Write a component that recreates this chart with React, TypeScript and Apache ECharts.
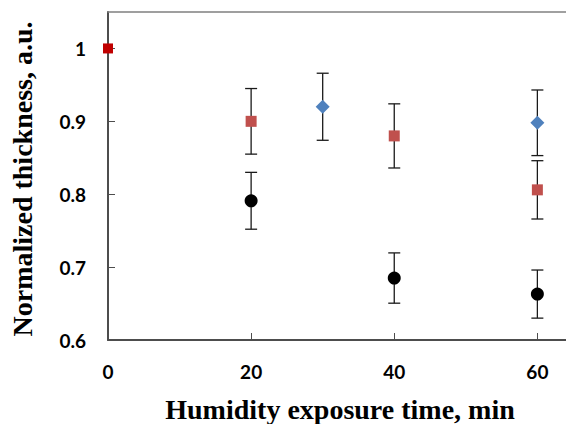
import React, { useEffect, useRef } from "react";
import * as echarts from "echarts";

// Data
const startPoint: [number, number][] = [[0, 1.0]];

const redX = [20, 40, 60];
const redY = [0.9, 0.88, 0.806];
const redErr = [0.045, 0.044, 0.04];

const blueX = [30, 60];
const blueY = [0.92, 0.898];
const blueErr = [0.046, 0.045];

const blackX = [20, 40, 60];
const blackY = [0.791, 0.685, 0.663];
const blackErr = [0.039, 0.0345, 0.033];

const xTicks = [0, 20, 40, 60];
const yTicks = [0.6, 0.7, 0.8, 0.9, 1];

const xTitle = "Humidity exposure time, min";
const yTitle = "Normalized thickness, a.u.";

const toPoints = (xs: number[], ys: number[]) => xs.map((x, i) => [x, ys[i]]);
const toErr = (xs: number[], ys: number[], es: number[]) =>
  xs.map((x, i) => [x, ys[i] - es[i], ys[i] + es[i]]);

const errSeries = (data: number[][]) => ({
  type: "custom",
  data,
  z: 1,
  silent: true,
  encode: { x: 0, y: [1, 2] },
  renderItem: (params: any, api: any) => {
    const x = api.value(0);
    const lo = api.coord([x, api.value(1)]);
    const hi = api.coord([x, api.value(2)]);
    const w = 6;
    const style = { stroke: "#1a1a1a", lineWidth: 1.3 };
    return {
      type: "group",
      children: [
        { type: "line", shape: { x1: hi[0], y1: hi[1], x2: lo[0], y2: lo[1] }, style },
        { type: "line", shape: { x1: hi[0] - w, y1: hi[1], x2: hi[0] + w, y2: hi[1] }, style },
        { type: "line", shape: { x1: lo[0] - w, y1: lo[1], x2: lo[0] + w, y2: lo[1] }, style },
      ],
    };
  },
});

export default function App() {
  const ref = useRef<HTMLDivElement>(null);
  useEffect(() => {
    if (!ref.current) return;
    const chart = echarts.init(ref.current, null, { renderer: "svg" });
    const labelFont = { fontFamily: "Lato", fontWeight: "bold" as const, fontSize: 19, color: "#000" };
    chart.setOption({
      animation: false,
      backgroundColor: "#fff",
      grid: {
        left: 108,
        right: 0,
        top: 12,
        bottom: 84,
        show: false,
      },
      xAxis: [
        {
          type: "value",
          min: 0,
          max: 64,
          interval: 20,
          splitLine: { show: false },
          axisLine: { show: true, lineStyle: { color: "#4d4d4d", width: 2 } },
          axisTick: {
            show: true,
            inside: true,
            length: 7,
            customValues: xTicks,
            lineStyle: { color: "#4d4d4d", width: 1 },
          },
          axisLabel: { ...labelFont, margin: 22, customValues: xTicks },
        },
        {
          type: "value",
          position: "top",
          min: 0,
          max: 64,
          interval: 20,
          splitLine: { show: false },
          axisLine: { show: true, lineStyle: { color: "#808080", width: 1.5 } },
          axisTick: { show: false },
          axisLabel: { show: false },
        },
      ],
      yAxis: {
        type: "value",
        min: 0.6,
        max: 1.05,
        interval: 0.1,
        splitLine: { show: false },
        axisLine: { show: true, lineStyle: { color: "#4d4d4d", width: 2 } },
        axisTick: {
          show: true,
          inside: true,
          length: 7,
          customValues: yTicks,
          lineStyle: { color: "#4d4d4d", width: 1 },
        },
        axisLabel: {
          ...labelFont,
          margin: 22,
          customValues: yTicks,
          formatter: (v: number) => String(Math.round(v * 10) / 10),
        },
      },
      graphic: [
        {
          type: "text",
          x: 340,
          y: 409,
          style: {
            text: xTitle,
            font: "bold 28px 'Liberation Serif'",
            fill: "#000",
            textAlign: "center",
            textVerticalAlign: "middle",
          },
        },
        {
          type: "text",
          x: 22,
          y: 179,
          rotation: Math.PI / 2,
          style: {
            text: yTitle,
            font: "bold 28px 'Liberation Serif'",
            fill: "#000",
            textAlign: "center",
            textVerticalAlign: "middle",
          },
        },
      ],
      series: [
        errSeries(toErr(redX, redY, redErr)),
        errSeries(toErr(blueX, blueY, blueErr)),
        errSeries(toErr(blackX, blackY, blackErr)),
        {
          type: "scatter",
          data: toPoints(redX, redY),
          symbol: "rect",
          symbolSize: 11,
          itemStyle: { color: "#C0504D", opacity: 1 },
          z: 3,
        },
        {
          type: "scatter",
          data: toPoints(blueX, blueY),
          symbol: "diamond",
          symbolSize: 14,
          itemStyle: { color: "#4F81BD", opacity: 1 },
          z: 3,
        },
        {
          type: "scatter",
          data: toPoints(blackX, blackY),
          symbol: "circle",
          symbolSize: 13,
          itemStyle: { color: "#000", opacity: 1 },
          z: 3,
        },
        {
          type: "scatter",
          data: startPoint,
          symbol: "rect",
          symbolSize: 10,
          itemStyle: { color: "#C00000", opacity: 1 },
          z: 4,
        },
      ],
    });
    return () => chart.dispose();
  }, []);
  return (
    <div
      ref={ref}
      style={{ position: "fixed", left: 0, top: 0, width: 566, height: 424, background: "#fff" }}
    />
  );
}
